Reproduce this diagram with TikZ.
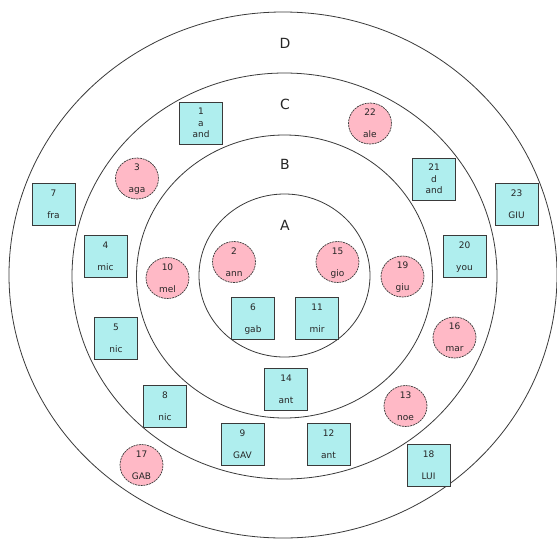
\documentclass[tikz,border=0pt]{standalone}
\usepackage{fontspec}
\setmainfont{DejaVu Sans}
\usetikzlibrary{shapes.geometric}
\definecolor{boxfill}{HTML}{AFEEEE}
\definecolor{dotfill}{HTML}{FFB9C6}
\definecolor{edge}{HTML}{3A3A3A}
\definecolor{ink}{HTML}{262626}
% number on top, name at the bottom of a member token
\newcommand\member[2]{#1\\[10.5pt]\smash{#2}}
\begin{document}
\begin{tikzpicture}[x=1pt,y=-1pt,
  ring/.style={draw=edge, line width=0.8pt},
  zone/.style={font=\fontsize{14}{16}\selectfont, text=ink},
  sq/.style={draw=edge, line width=0.9pt, fill=boxfill, minimum width=43pt,
    minimum height=42pt, inner sep=0pt, align=center, text=ink,
    font=\fontsize{9}{11.3}\selectfont},
  dot/.style={ellipse, draw=edge, line width=0.7pt, dash pattern=on 2pt off 0.8pt,
    fill=dotfill, minimum width=43pt, minimum height=41pt, inner sep=0pt,
    align=center, text=ink, font=\fontsize{9}{11.3}\selectfont}]
\useasboundingbox (0,0) rectangle (557,539);
\fill[white] (0,0) rectangle (557,539);

% concentric zones
\draw[ring] (283,275) ellipse [x radius=274, y radius=263];
\draw[ring] (284.5,276) ellipse [x radius=212.5, y radius=203];
\draw[ring] (284.5,276.5) ellipse [x radius=148, y radius=141.5];
\draw[ring] (284.5,275.5) ellipse [x radius=85.5, y radius=81.5];

\node[zone] (zD) at (285,43) {D};
\node[zone] (zC) at (285,104) {C};
\node[zone] (zB) at (285,164) {B};
\node[zone] (zA) at (285,225) {A};

% members
\node[sq]  (n1)  at (201,123)     {1\\a\\and};
\node[dot] (n22) at (370,123.5)   {\member{22}{ale}};
\node[dot] (n3)  at (137,178.5)   {\member{3}{aga}};
\node[sq]  (n21) at (434,179)     {21\\d\\and};
\node[sq]  (n7)  at (53.5,204.5)  {\member{7}{fra}};
\node[sq]  (n23) at (516.5,204.5) {\member{23}{GIU}};
\node[sq]  (n4)  at (105.5,256)   {\member{4}{mic}};
\node[sq]  (n20) at (464.5,256)   {\member{20}{you}};
\node[dot] (n2)  at (234,262)     {\member{2}{ann}};
\node[dot] (n15) at (337.5,262)   {\member{15}{gio}};
\node[dot] (n10) at (167.5,278)   {\member{10}{mel}};
\node[dot] (n19) at (402.5,276.5) {\member{19}{giu}};
\node[sq]  (n6)  at (253,318.5)   {\member{6}{gab}};
\node[sq]  (n11) at (317,318.5)   {\member{11}{mir}};
\node[sq]  (n5)  at (116,338)     {\member{5}{nic}};
\node[dot] (n16) at (454.5,337.5) {\member{16}{mar}};
\node[sq]  (n14) at (286,389.5)   {\member{14}{ant}};
\node[sq]  (n8)  at (165,406.5)   {\member{8}{nic}};
\node[dot] (n13) at (405.5,406)   {\member{13}{noe}};
\node[sq]  (n9)  at (242.5,444.5) {\member{9}{GAV}};
\node[sq]  (n12) at (328.5,444.5) {\member{12}{ant}};
\node[dot] (n17) at (141.5,465)   {\member{17}{GAB}};
\node[sq]  (n18) at (428.5,465.5) {\member{18}{LUI}};
\end{tikzpicture}
\end{document}
